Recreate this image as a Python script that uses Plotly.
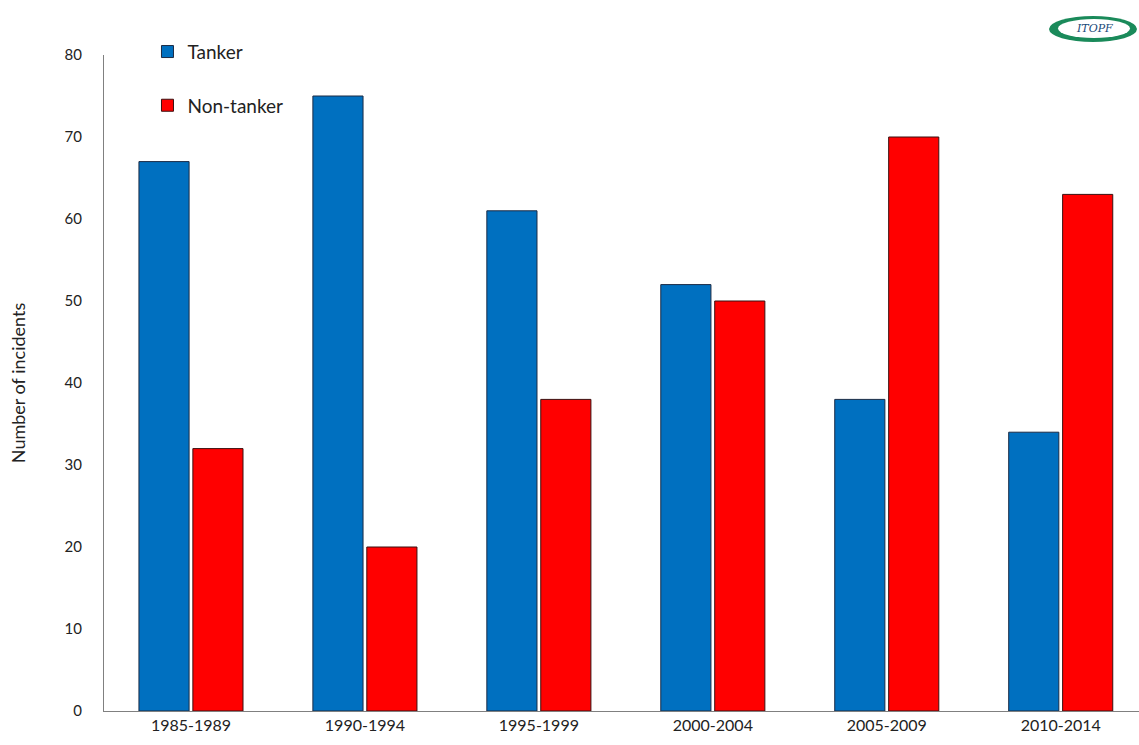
import plotly.graph_objects as go

periods = ["1985-1989", "1990-1994", "1995-1999", "2000-2004", "2005-2009", "2010-2014"]
tanker = [67, 75, 61, 52, 38, 34]
non_tanker = [32, 20, 38, 50, 70, 63]
y_ticks = [0, 10, 20, 30, 40, 50, 60, 70, 80]

FONT = "Lato, Open Sans, sans-serif"

fig = go.Figure()
fig.add_trace(go.Bar(x=periods, y=tanker, name="Tanker", legendgroup="a",
                     marker=dict(color="#0070C0", line=dict(color="#1b2b45", width=1))))
fig.add_trace(go.Bar(x=periods, y=non_tanker, name="Non-tanker", legendgroup="b",
                     marker=dict(color="#FF0000", line=dict(color="#3a1010", width=1))))

fig.update_layout(
    width=1139, height=745,
    margin=dict(l=104, r=0, t=55, b=34),
    plot_bgcolor="white", paper_bgcolor="white",
    barmode="group", bargap=0.38, bargroupgap=0.07,
    font=dict(family=FONT, color="#222222"),
    showlegend=True,
    legend=dict(x=0.042, y=1.034, xanchor="left", yanchor="top",
                font=dict(size=19, color="#222222"),
                traceorder="grouped", tracegroupgap=26,
                itemwidth=30, bgcolor="rgba(0,0,0,0)"),
    xaxis=dict(range=[-0.5, 5.45], showline=True, linecolor="#808080", linewidth=1,
               ticks="", tickfont=dict(size=16, color="#222222"), showgrid=False),
    yaxis=dict(range=[0, 80], tickvals=y_ticks, showline=True, linecolor="#808080",
               linewidth=1, ticks="", showgrid=False, zeroline=False,
               tickfont=dict(size=15, color="#222222"), ticklabelstandoff=18,
               title=dict(text="Number of incidents", font=dict(size=18, color="#222222"),
                          standoff=34)),
)

# ITOPF logo approximation (positions in paper units: px -> paper)
def px_x(px):
    return (px - 104) / 1035.0

def px_y(py):
    return (711 - py) / 656.0

fig.add_shape(type="circle", xref="paper", yref="paper",
              x0=px_x(1049), x1=px_x(1137), y0=px_y(42), y1=px_y(16),
              fillcolor="#1a8a5a", line=dict(width=0), layer="below")
fig.add_shape(type="circle", xref="paper", yref="paper",
              x0=px_x(1058), x1=px_x(1130), y0=px_y(38), y1=px_y(19),
              fillcolor="white", line=dict(width=0), layer="below")
fig.add_annotation(xref="paper", yref="paper", x=px_x(1094), y=px_y(28.5),
                   xanchor="center", yanchor="middle", text="<i>ITOPF</i>",
                   showarrow=False, font=dict(size=11, color="#1a4a7a", family="DejaVu Serif"))

fig.write_html("out.html", config={"displayModeBar": False})
